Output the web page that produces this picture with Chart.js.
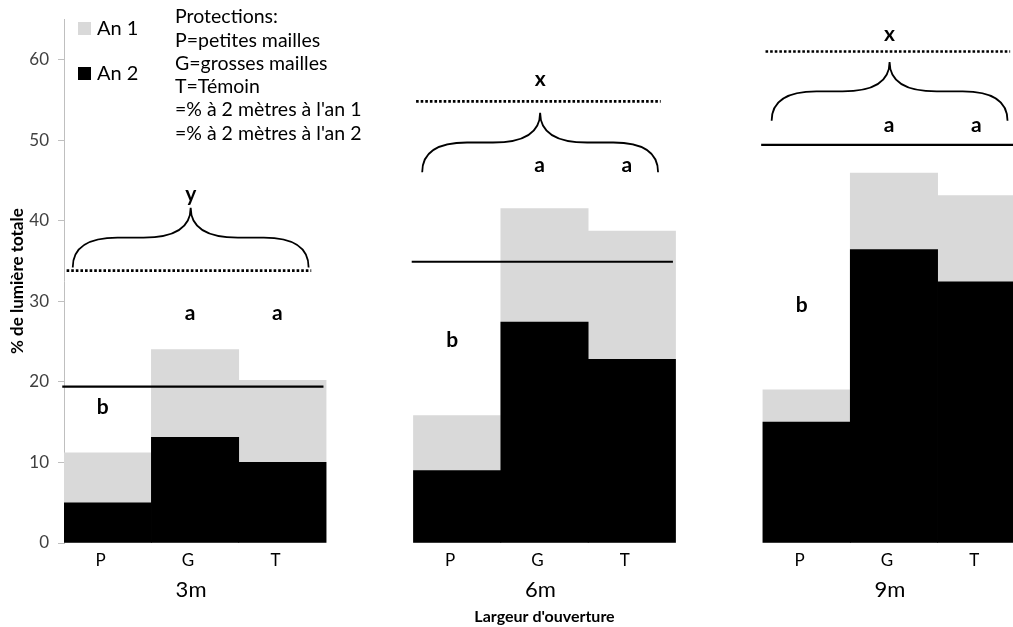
<!DOCTYPE html>
<html lang="fr">
  <head>
    <meta charset="UTF-8" />
    <meta name="viewport" content="width=device-width, initial-scale=1.0" />
    <script src="https://cdn.jsdelivr.net/npm/chart.js"></script>
    <title>Lumière totale</title>
    <style>
      html, body { margin: 0; padding: 0; overflow: hidden; background: #fff; }
    </style>
  </head>
  <body>
    <canvas id="myChart" width="1030" height="627"></canvas>
    <script>
      var categories = ["P", "G", "T", "", "P", "G", "T", "", "P", "G", "T"];
      var groupes = ["3m", "6m", "9m"];
      var an1 = [11.2, 24.0, 20.2, null, 15.8, 41.5, 38.7, null, 19.0, 45.9, 43.1];
      var an2 = [5.0, 13.1, 10.0, null, 9.0, 27.4, 22.8, null, 15.0, 36.4, 32.4];
      // % a 2 metres (lignes de reference)
      var deuxMetresAn1 = [33.8, 54.8, 61.0];
      var deuxMetresAn2 = [19.4, 34.9, 49.4];
      // lettres de signification
      var lettresBarres = ["b", "a", "a", "", "b", "a", "a", "", "b", "a", "a"];
      var niveauLettresBarres = [16.8, 28.5, 28.5, null, 25.1, 46.9, 46.9, null, 29.5, 51.9, 51.9];
      var lettresGroupes = ["y", "x", "x"];
      var niveauLettresGroupes = [43.3, 57.5, 63.1];
      var accoladeBas = [34.2, 46.0, 52.4];
      var accoladeHaut = [41.6, 53.4, 59.7];
      var yTicks = [0, 10, 20, 30, 40, 50, 60];
      var protections = ["Protections:", "P=petites mailles", "G=grosses mailles", "T=Témoin",
        "=% à 2 mètres à l'an 1", "=% à 2 mètres à l'an 2"];

      var police = "Lato, 'Open Sans', sans-serif";

      var annotations = {
        id: "annotations",
        afterDatasetsDraw: function (chart) {
          var ctx = chart.ctx;
          var xs = chart.scales.x;
          var ys = chart.scales.y;
          var slot = xs.getPixelForValue(1) - xs.getPixelForValue(0);
          ctx.save();
          ctx.strokeStyle = "#000";
          ctx.fillStyle = "#000";

          groupes.forEach(function (g, i) {
            var left = xs.getPixelForValue(i * 4) - slot / 2;

            // ligne pleine : an 2
            var yy = ys.getPixelForValue(deuxMetresAn2[i]);
            ctx.setLineDash([]);
            ctx.lineWidth = 2.2;
            ctx.beginPath();
            ctx.moveTo(left - 0.02 * slot, yy);
            ctx.lineTo(left + 2.97 * slot, yy);
            ctx.stroke();

            // ligne pointillee : an 1
            yy = ys.getPixelForValue(deuxMetresAn1[i]);
            ctx.setLineDash([2.6, 2]);
            ctx.lineWidth = 2.6;
            ctx.beginPath();
            ctx.moveTo(left + 0.03 * slot, yy);
            ctx.lineTo(left + 2.83 * slot, yy);
            ctx.stroke();
            ctx.setLineDash([]);

            // accolade
            var x0 = left + 0.1 * slot;
            var x1 = left + 2.8 * slot;
            var xc = (x0 + x1) / 2;
            var hw = (x1 - x0) / 2;
            var yb = ys.getPixelForValue(accoladeBas[i]);
            var yt = ys.getPixelForValue(accoladeHaut[i]);
            var ym = (yb + yt) / 2;
            ctx.lineWidth = 1.8;
            ctx.beginPath();
            ctx.moveTo(x0, yb);
            ctx.quadraticCurveTo(x0, ym, x0 + hw * 0.38, ym);
            ctx.lineTo(xc - hw * 0.4, ym);
            ctx.quadraticCurveTo(xc, ym, xc, yt);
            ctx.moveTo(x1, yb);
            ctx.quadraticCurveTo(x1, ym, x1 - hw * 0.38, ym);
            ctx.lineTo(xc + hw * 0.4, ym);
            ctx.quadraticCurveTo(xc, ym, xc, yt);
            ctx.stroke();

            ctx.font = "bold 21px " + police;
            ctx.textAlign = "center";
            ctx.textBaseline = "middle";
            ctx.fillText(lettresGroupes[i], xc, ys.getPixelForValue(niveauLettresGroupes[i]));

            // etiquette du groupe
            ctx.font = "22px " + police;
            ctx.fillText(g, xs.getPixelForValue(i * 4 + 1) - 4, 590);
          });

          ctx.font = "bold 21px " + police;
          ctx.textAlign = "center";
          ctx.textBaseline = "middle";
          lettresBarres.forEach(function (l, k) {
            if (!l) return;
            ctx.fillText(l, xs.getPixelForValue(k) - 5, ys.getPixelForValue(niveauLettresBarres[k]));
          });

          // legende
          ctx.textAlign = "left";
          ctx.font = "20px " + police;
          chart.data.datasets.forEach(function (ds, k) {
            var cy = 28 + k * 45;
            ctx.fillStyle = ds.backgroundColor;
            ctx.fillRect(78, cy - 6, 13, 13);
            ctx.fillStyle = "#000";
            ctx.fillText(ds.label, 97, cy + 1);
          });

          ctx.font = "19.5px " + police;
          protections.forEach(function (t, k) {
            ctx.fillText(t, 175, 17 + k * 23.3);
          });
          ctx.restore();
        },
      };

      var ctx = document.getElementById("myChart");
      var myChart = new Chart(ctx, {
        type: "bar",
        data: {
          labels: categories,
          datasets: [
            { label: "An 1", data: an1, backgroundColor: "#d9d9d9", order: 2 },
            { label: "An 2", data: an2, backgroundColor: "#000000", order: 1 },
          ],
        },
        options: {
          responsive: false,
          animation: false,
          layout: { padding: { top: 18, right: 5, left: 0, bottom: 0 } },
          datasets: { bar: { barPercentage: 1, categoryPercentage: 1 } },
          plugins: { legend: { display: false }, tooltip: { enabled: false } },
          scales: {
            x: {
              stacked: true,
              grid: { display: false, drawTicks: false },
              border: { display: false },
              ticks: { font: { family: police, size: 17 }, color: "#000", padding: 7, labelOffset: -7 },
              title: {
                display: true,
                text: "Largeur d'ouverture",
                font: { family: police, size: 16, weight: "bold" },
                color: "#000",
                padding: { top: 0, bottom: 1 },
              },
              afterFit: function (s) { s.height = 84; },
            },
            y: {
              stacked: false,
              min: 0,
              max: 65,
              afterBuildTicks: function (s) {
                s.ticks = yTicks.map(function (v) { return { value: v }; });
              },
              grid: { drawOnChartArea: false, tickLength: 6, color: "#bfbfbf" },
              border: { color: "#bfbfbf" },
              ticks: { font: { family: police, size: 17 }, color: "#404040", padding: 9 },
              title: {
                display: true,
                text: "% de lumière totale",
                font: { family: police, size: 17, weight: "bold" },
                color: "#000",
                padding: { top: 7, bottom: 0 },
              },
              afterFit: function (s) { s.width = 64; },
            },
          },
        },
        plugins: [annotations],
      });
    </script>
  </body>
</html>
